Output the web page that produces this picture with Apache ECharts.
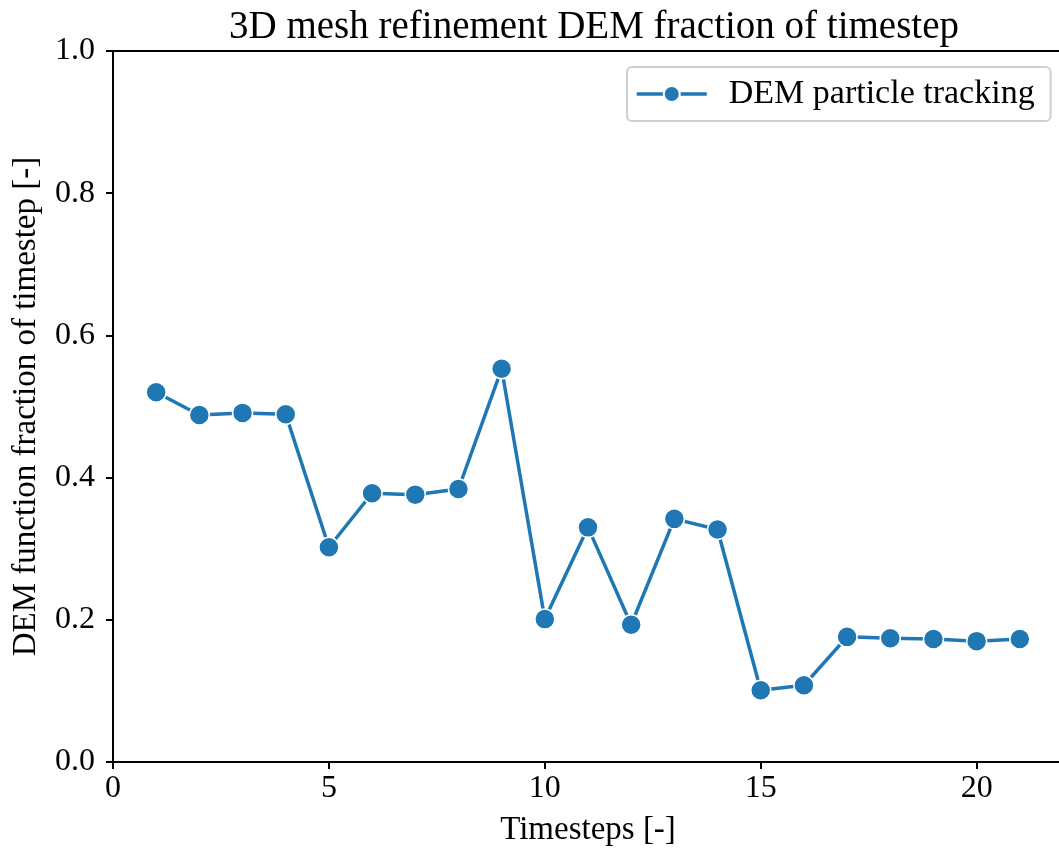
<!DOCTYPE html>
<html>
<head>
<meta charset="utf-8">
<script src="https://cdn.jsdelivr.net/npm/echarts@6/dist/echarts.min.js"></script>
<style>
  html, body { margin: 0; padding: 0; background: #fff; }
  #chart { width: 1059px; height: 853px; }
</style>
</head>
<body>
<div id="chart"></div>
<script>
// timesteps and DEM share of each step
const timesteps = [1, 2, 3, 4, 5, 6, 7, 8, 9, 10, 11, 12, 13, 14, 15, 16, 17, 18, 19, 20, 21];
const demFraction = [0.520, 0.488, 0.491, 0.489, 0.302, 0.378, 0.376, 0.384, 0.553, 0.201, 0.330,
                     0.193, 0.342, 0.327, 0.101, 0.108, 0.176, 0.174, 0.173, 0.170, 0.173];
const xTicks = [0, 5, 10, 15, 20];
const yTicks = [0.0, 0.2, 0.4, 0.6, 0.8, 1.0];

const font = '"Liberation Serif", "DejaVu Serif", serif';
const blue = '#1f77b4';

const chart = echarts.init(document.getElementById('chart'));

const option = {
  backgroundColor: '#ffffff',
  animation: false,
  title: {
    text: '3D mesh refinement DEM fraction of timestep',
    left: 589,
    textAlign: 'center',
    top: 3,
    textStyle: { fontFamily: font, fontSize: 39, fontWeight: 'normal', color: '#000' }
  },
  legend: {
    data: ['DEM particle tracking'],
    left: 627,
    top: 67,
    padding: [10, 16, 10, 8],
    itemWidth: 70,
    itemHeight: 20,
    borderColor: '#d0d0d0',
    borderWidth: 2,
    borderRadius: 5,
    backgroundColor: 'rgba(255,255,255,0.8)',
    lineStyle: { width: 3.5 },
    textStyle: { fontFamily: font, fontSize: 34, color: '#000', padding: [0, 0, 0, 17] }
  },
  grid: {
    left: 113,
    top: 51,
    width: 950,
    height: 711,
    outerBoundsMode: 'none',
    show: true,
    borderColor: '#000',
    borderWidth: 2,
    backgroundColor: 'transparent'
  },
  xAxis: {
    type: 'value',
    min: 0,
    max: 22,
    interval: 5,
    name: 'Timesteps [-]',
    nameLocation: 'middle',
    nameGap: 52,
    nameTextStyle: { fontFamily: font, fontSize: 33, color: '#000' },
    axisLine: { show: true, onZero: false, lineStyle: { color: '#000', width: 2 } },
    axisTick: { show: true, length: 7, lineStyle: { color: '#000', width: 2 } },
    axisLabel: {
      margin: 11,
      fontFamily: font, fontSize: 32, color: '#000',
      formatter: v => xTicks.includes(v) ? String(v) : ''
    },
    splitLine: { show: false }
  },
  yAxis: {
    type: 'value',
    min: yTicks[0],
    max: yTicks[yTicks.length - 1],
    interval: 0.2,
    name: 'DEM function fraction of timestep [-]',
    nameLocation: 'middle',
    nameRotate: 90,
    nameGap: 70,
    nameTextStyle: { fontFamily: font, fontSize: 33, color: '#000' },
    axisLine: { show: true, lineStyle: { color: '#000', width: 2 } },
    axisTick: { show: true, length: 7, lineStyle: { color: '#000', width: 2 } },
    axisLabel: {
      margin: 18,
      fontFamily: font, fontSize: 32, color: '#000',
      formatter: v => v.toFixed(1)
    },
    splitLine: { show: false }
  },
  series: [
    {
      name: 'DEM particle tracking',
      type: 'line',
      data: timesteps.map((t, i) => [t, demFraction[i]]),
      symbol: 'circle',
      symbolSize: 20,
      lineStyle: { color: blue, width: 3.5 },
      itemStyle: { color: blue, borderColor: '#fff', borderWidth: 1.5 }
    }
  ]
};

chart.setOption(option);
</script>
</body>
</html>
